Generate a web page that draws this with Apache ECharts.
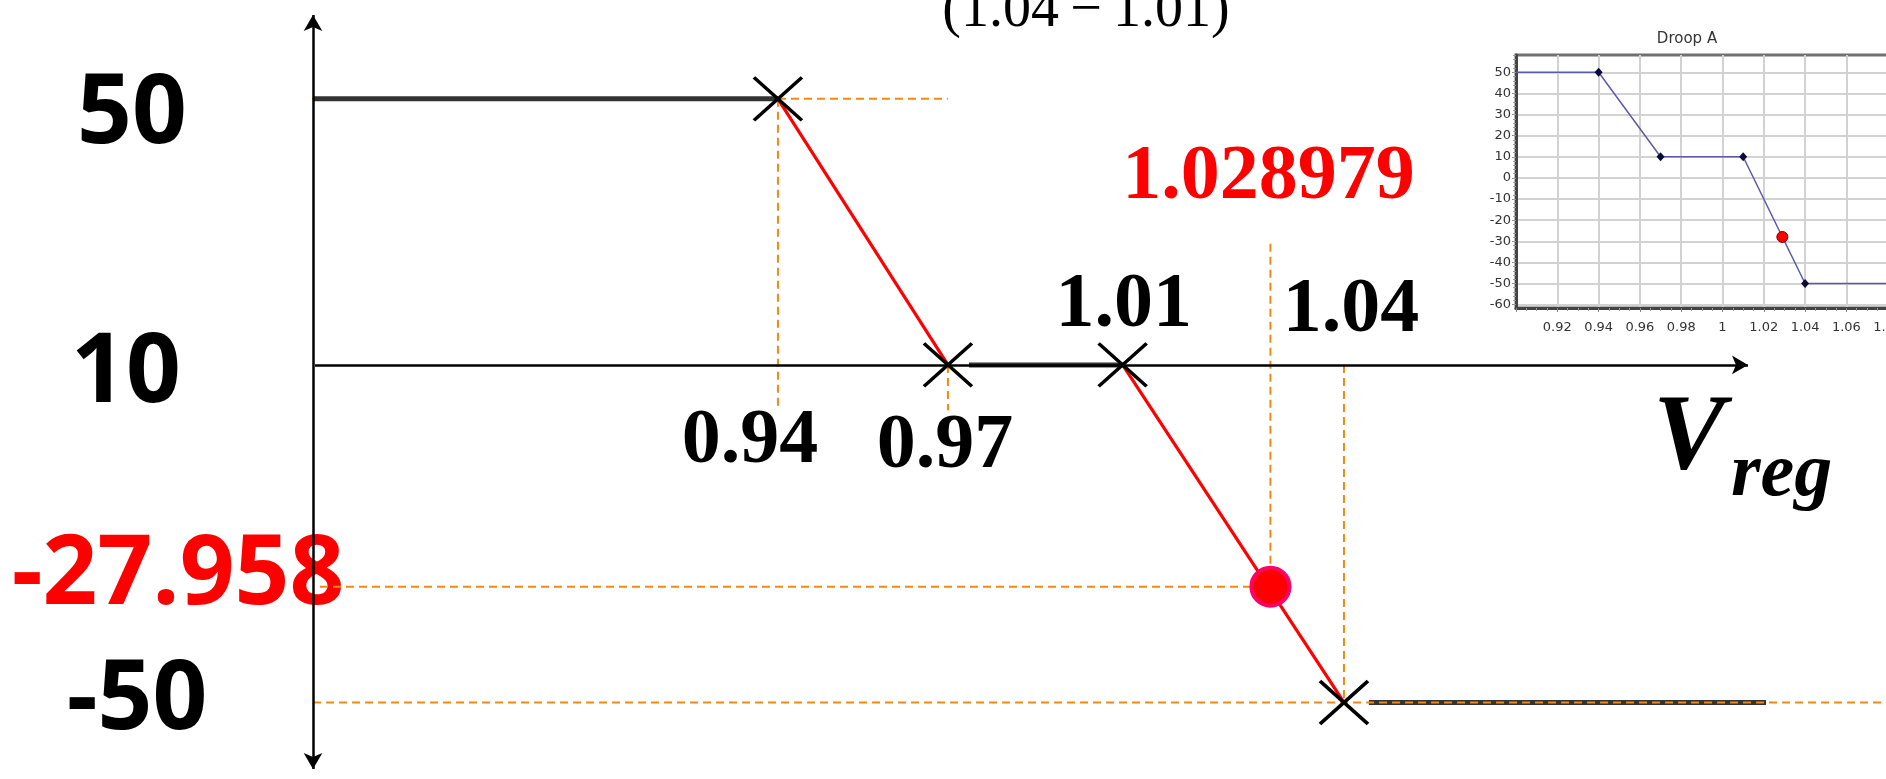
<!DOCTYPE html>
<html>
<head>
<meta charset="utf-8">
<title>Droop curve</title>
<script src="https://cdn.jsdelivr.net/npm/echarts@6/dist/echarts.min.js"></script>
<style>
  html, body { margin: 0; padding: 0; background: #fff; }
  #chart { width: 1886px; height: 779px; }
</style>
</head>
<body>
<div id="chart"></div>
<script>
// droop break points (Vreg, Q)
const breakV = [0.94, 0.97, 1.01, 1.04];
const breakQ = [50, 10, 10, -50];

// operating point
const opV = 1.028979;
const opQ = -27.958;

// flat (held) parts of the curve, as drawn
const flatFrom = [0.8803, 0.9727, 1.0432];
const flatTo = [0.94, 1.01, 1.0942];
const flatQ = [50, 10, -50];

// orange guide lines
const hGuideQ = [50, 50, -27.958, -50];
const hGuideFrom = [0.873, 0.94, 0.8812, 0.8753];
const hGuideTo = [0.8803, 0.97, 1.028979, 1.1096];
const vGuideV = [0.94, 0.97, 1.028979, 1.04];
const vGuideTop = [50, 10, 28.2, 10];
const vGuideBottom = [3.2, 3.2, -27.958, -50];

// values written next to the curve
const yLabelValues = [50, 10, -27.958, -50];
const xLabelValues = [0.94, 0.97, 1.01, 1.04, 1.028979];

// small "Droop A" chart
const insetV = [0.9, 0.94, 0.97, 1.01, 1.04, 1.1];
const insetQ = [50, 50, 10, 10, -50, -50];
const insetTickQ = [-60, -50, -40, -30, -20, -10, 0, 10, 20, 30, 40, 50];

// ---- scales: the sketch is not drawn to scale, so parts of both axes are squeezed ----
const mainX = [0.8803, 1.1096];
const mainY = [-60, 62.6];
const xBreaks = [
  { start: 0.945, end: 0.965, gap: 0.011828 },
  { start: 0.975, end: 1.005, gap: 0.012432 },
  { start: 1.031, end: 1.038, gap: 0.00542 }
];
const yBreaks = [
  { start: -14, end: -2, gap: 7.38 },
  { start: -46, end: -34, gap: 7.37 }
];
const axisQ = 10;          // the Vreg axis is drawn through Q = 10
const axisStartV = 0.88056;
const axisEndV = 1.09188;  // end of the Vreg arrow

const minorQ = [];
for (let q = -60; q <= 58; q += 2) minorQ.push(q);

const chart = echarts.init(document.getElementById('chart'));

const series = [];

// the two arrowed axes
series.push({
  type: 'line', xAxisIndex: 0, yAxisIndex: 0, data: [], silent: true, clip: false, z: 2,
  markLine: {
    silent: true, animation: false,
    symbol: ['none', 'arrow'], symbolSize: [14, 16],
    label: { show: false },
    emphasis: { disabled: true },
    lineStyle: { color: '#000', width: 2.5, type: 'solid' },
    data: [
      [{ coord: [axisStartV, axisQ] }, { coord: [axisEndV, axisQ] }],
      [{ coord: [mainX[0], mainY[0]], symbol: 'arrow' }, { coord: [mainX[0], mainY[1]] }]
    ]
  }
});

// flat parts
flatQ.forEach((q, i) => {
  series.push({
    type: 'line', xAxisIndex: 0, yAxisIndex: 0, clip: false, silent: true,
    symbol: 'none', z: 3,
    data: [[flatFrom[i], q], [flatTo[i], q]],
    lineStyle: { color: '#333', width: 5 }
  });
});

// dashed guides
const guideStyle = { color: '#F08A12', width: 2, type: [8, 5] };
hGuideQ.forEach((q, i) => {
  series.push({
    type: 'line', xAxisIndex: 0, yAxisIndex: 0, clip: false, silent: true,
    symbol: 'none', z: 4,
    data: [[hGuideFrom[i], q], [hGuideTo[i], q]],
    lineStyle: guideStyle
  });
});
vGuideV.forEach((v, i) => {
  series.push({
    type: 'line', xAxisIndex: 0, yAxisIndex: 0, clip: false, silent: true,
    symbol: 'none', z: 4,
    data: [[v, vGuideTop[i]], [v, vGuideBottom[i]]],
    lineStyle: guideStyle
  });
});

// sloped parts in red
[[0, 1], [2, 3]].forEach(([a, b]) => {
  series.push({
    type: 'line', xAxisIndex: 0, yAxisIndex: 0, clip: false, silent: true,
    symbol: 'none', z: 5,
    data: [[breakV[a], breakQ[a]], [breakV[b], breakQ[b]]],
    lineStyle: { color: '#FF0000', width: 3.2 }
  });
});

// X marks on the break points
series.push({
  type: 'scatter', xAxisIndex: 0, yAxisIndex: 0, silent: true, clip: false, z: 6,
  symbol: 'path://M0,0L10,10M10,0L0,10',
  symbolSize: [48, 43],
  data: breakV.map((v, i) => [v, breakQ[i]]),
  itemStyle: { color: 'rgba(0,0,0,0)', borderColor: '#000', borderWidth: 3.5, opacity: 1 }
});

// operating point
series.push({
  type: 'scatter', xAxisIndex: 0, yAxisIndex: 0, silent: true, clip: false, z: 7,
  symbolSize: 38,
  data: [[opV, opQ]],
  itemStyle: { color: '#FF0000', borderColor: '#FF0066', borderWidth: 4, opacity: 1 }
});

// inset chart
series.push({
  type: 'line', xAxisIndex: 1, yAxisIndex: 1, silent: true, symbol: 'none', z: 3,
  data: insetV.map((v, i) => [v, insetQ[i]]),
  lineStyle: { color: '#5a5aa8', width: 1.5 }
});
series.push({
  type: 'scatter', xAxisIndex: 1, yAxisIndex: 1, silent: true, z: 4,
  symbol: 'diamond', symbolSize: [8, 9],
  data: breakV.map((v, i) => [v, breakQ[i]]),
  itemStyle: { color: '#0b0b3b', opacity: 1 }
});
series.push({
  type: 'scatter', xAxisIndex: 1, yAxisIndex: 1, silent: true, z: 5,
  symbolSize: 11,
  data: [[opV, opQ]],
  itemStyle: { color: '#FF0000', borderColor: '#7a0000', borderWidth: 1, opacity: 1 }
});

const insetLabel = { fontFamily: 'DejaVu Sans', fontSize: 13, color: '#333' };

const option = {
  animation: false,
  backgroundColor: '#fff',
  title: {
    text: 'Droop A', left: 1682, top: 27, textAlign: 'center',
    textStyle: { fontFamily: 'DejaVu Sans', fontSize: 15, fontWeight: 'normal', color: '#333' }
  },
  grid: [
    { left: 313, right: 0, top: 15, bottom: 10, outerBoundsMode: 'none' },
    { left: 1516, top: 55, width: 413, height: 253, show: true,
      borderColor: '#707070', borderWidth: 3, outerBoundsMode: 'none' }
  ],
  xAxis: [
    { gridIndex: 0, type: 'value', min: mainX[0], max: mainX[1], show: false,
      breaks: xBreaks, breakArea: { show: false } },
    {
      gridIndex: 1, type: 'value', min: 0.9, max: 1.1, interval: 0.02,
      axisLine: { show: true, onZero: false, lineStyle: { color: '#444', width: 3 } },
      axisTick: { show: true, length: 4, lineStyle: { color: '#888' } },
      minorTick: { show: true, splitNumber: 4, length: 3, lineStyle: { color: '#999' } },
      axisLabel: Object.assign({ showMinLabel: false, showMaxLabel: false, margin: 13 }, insetLabel),
      splitLine: { show: true, lineStyle: { color: '#d2d2d2', width: 2 } }
    }
  ],
  yAxis: [
    { gridIndex: 0, type: 'value', min: mainY[0], max: mainY[1], show: false,
      breaks: yBreaks, breakArea: { show: false } },
    {
      gridIndex: 1, type: 'value', min: -61.6, max: 58.2, position: 'left',
      axisLine: { show: true, onZero: false, lineStyle: { color: '#444', width: 3 } },
      axisTick: { show: true, length: 4, customValues: insetTickQ, lineStyle: { color: '#888' } },
      axisLabel: Object.assign({ customValues: insetTickQ, margin: 5 }, insetLabel),
      splitLine: { show: true, lineStyle: { color: '#d2d2d2', width: 2 } }
    },
    {
      gridIndex: 1, type: 'value', min: -61.6, max: 58.2, position: 'left',
      axisLine: { show: false },
      axisTick: { show: true, length: 3, customValues: minorQ, lineStyle: { color: '#999' } },
      axisLabel: { show: false }, splitLine: { show: false }
    }
  ],
  series: series
};

chart.setOption(option);

// ---- text placed from the chart's own scale ----
const toPx = (v, q) => chart.convertToPixel({ gridIndex: 0 }, [v, q]);
const sansBold = 'bold 96px "Open Sans"';
const serifBold = 'bold 78px "Liberation Serif"';

const yLabelCx = [132, 126, 178, 137];
const yLabelDy = [17, 10, -10, -1];
const xLabelAnchorQ = [axisQ, axisQ, axisQ, axisQ, 28.2];
const xLabelDx = [-28, -3, 1, 7, -2];
const xLabelDy = [77, 82, -59, -54, -66];

const texts = [];
yLabelValues.forEach((q, i) => {
  const p = toPx(mainX[0], q);
  texts.push({
    type: 'text', x: yLabelCx[i], y: p[1] + yLabelDy[i], z: 1,
    style: { text: String(q), font: sansBold, fill: q === opQ ? '#FF0000' : '#000',
      align: 'center', verticalAlign: 'middle' }
  });
});
xLabelValues.forEach((v, i) => {
  const p = toPx(v, xLabelAnchorQ[i]);
  texts.push({
    type: 'text', x: p[0] + xLabelDx[i], y: p[1] + xLabelDy[i], z: 1,
    style: { text: String(v), font: serifBold, fill: v === opV ? '#FF0000' : '#000',
      align: 'center', verticalAlign: 'middle' }
  });
});

// axis name V_reg
const tip = toPx(axisEndV, axisQ);
texts.push({
  type: 'text', x: tip[0] - 95, y: tip[1] + 75, z: 1,
  style: { text: 'V', font: 'italic bold 108px "Liberation Serif"', fill: '#000',
    align: 'left', verticalAlign: 'middle' }
});
texts.push({
  type: 'text', x: tip[0] - 17, y: tip[1] + 110, z: 1,
  style: { text: 'reg', font: 'italic bold 76px "Liberation Serif"', fill: '#000',
    align: 'left', verticalAlign: 'middle' }
});

// cut-off formula text at the top edge
texts.push({
  type: 'text', x: 1086, y: 11, z: 1,
  style: { text: '(1.04\u2009\u2212\u20091.01)', font: '56px "Liberation Serif"', fill: '#000',
    align: 'center', verticalAlign: 'middle' }
});

chart.setOption({ graphic: texts });
</script>
</body>
</html>
